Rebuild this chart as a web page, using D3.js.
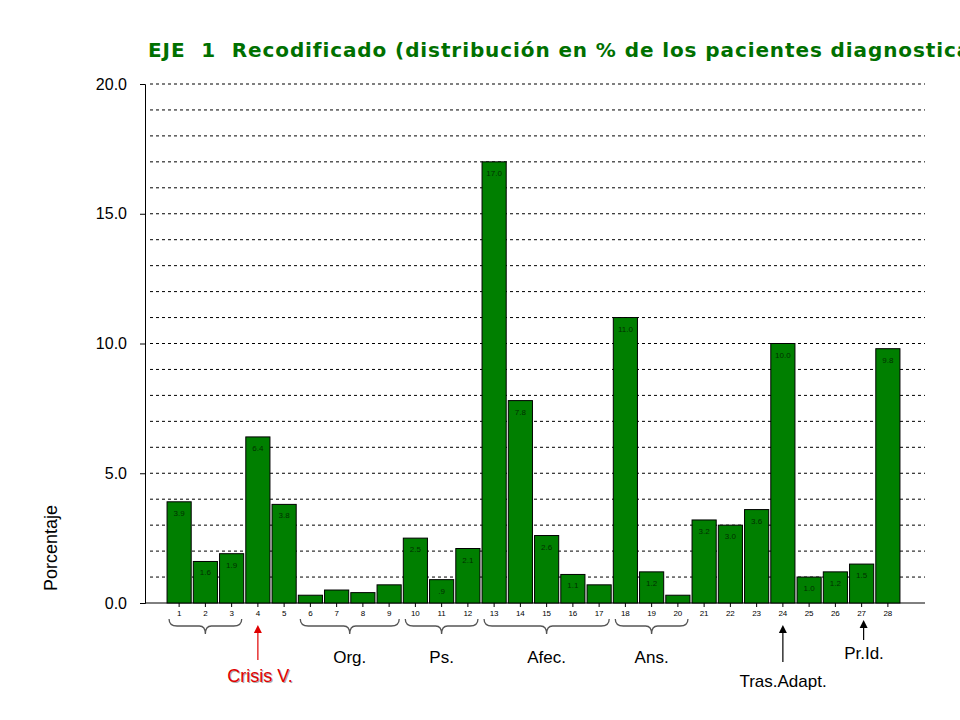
<!DOCTYPE html><html><head><meta charset="utf-8"><script src="https://cdn.jsdelivr.net/npm/d3@7"></script>
<style>body{margin:0;background:#fff}svg{font-family:"Liberation Sans",Arial,sans-serif}</style></head><body><svg id="c" width="960" height="720"></svg><script>
const categories=d3.range(1,29).map(String);
const values=[3.9,1.6,1.9,6.4,3.8,0.3,0.5,0.4,0.7,2.5,0.9,2.1,17.0,7.8,2.6,1.1,0.7,11.0,1.2,0.3,3.2,3.0,3.6,10.0,1.0,1.2,1.5,9.8];
const valueLabels=["3.9","1.6","1.9","6.4","3.8","","","","","2.5",".9","2.1","17.0","7.8","2.6","1.1","","11.0","1.2","","3.2","3.0","3.6","10.0","1.0","1.2","1.5","9.8"];
const yTicks=[0,5,10,15,20];
const groups=[{from:1,to:3,label:""},{from:6,to:9,label:"Org."},{from:10,to:12,label:"Ps."},{from:13,to:17,label:"Afec."},{from:18,to:20,label:"Ans."}];
const svg=d3.select("#c");
const x=d3.scaleBand().domain(categories).range([166,901]).paddingInner(0.08).paddingOuter(0.04);
const y=d3.scaleLinear().domain([0,20]).range([603,84]);
svg.append("text").attr("x",148).attr("y",57).attr("fill","#007000").attr("font-family","DejaVu Sans").attr("font-weight","bold").attr("font-size",20).attr("letter-spacing",0.9).attr("xml:space","preserve")
 .text("EJE  1  Recodificado (distribución en % de los pacientes diagnosticados)");
svg.append("g").selectAll("line").data(d3.range(1,21)).join("line").attr("x1",150).attr("x2",925)
 .attr("y1",d=>y(d)).attr("y2",d=>y(d)).attr("stroke","#000").attr("stroke-dasharray","3,3");
svg.append("line").attr("x1",145).attr("x2",925).attr("y1",y(0)).attr("y2",y(0)).attr("stroke","#000");
const ya=svg.append("g").attr("transform","translate(145,0)").call(d3.axisLeft(y).tickValues(yTicks).tickFormat(d3.format(".1f")).tickSize(5));
ya.select(".domain").attr("stroke","#000");ya.selectAll("text").attr("font-size",16).attr("x",-18).attr("fill","#000");
svg.append("text").attr("transform","translate(57,548) rotate(-90)").attr("text-anchor","middle").attr("font-size",18).text("Porcentaje");
svg.append("g").selectAll("rect").data(values).join("rect").attr("x",(d,i)=>x(categories[i])).attr("width",x.bandwidth())
 .attr("y",d=>y(d)).attr("height",d=>y(0)-y(d)).attr("fill","#007f00").attr("stroke","#000").attr("stroke-width",1);
svg.append("g").selectAll("text").data(values).join("text").attr("x",(d,i)=>x(categories[i])+x.bandwidth()/2).attr("y",d=>y(d)+14)
 .attr("text-anchor","middle").attr("font-size",8).attr("fill","#003000").text((d,i)=>valueLabels[i]);
const xa=svg.append("g").attr("transform","translate(0,603)").call(d3.axisBottom(x).tickSize(4));
xa.select(".domain").remove();xa.selectAll("text").attr("font-size",8).attr("fill","#000");
const bg=svg.append("g").attr("fill","none").attr("stroke","#555").attr("stroke-width",1.3);
groups.forEach(g=>{const a=x(String(g.from))+2,b=x(String(g.to))+x.bandwidth()-2,m=(a+b)/2,t=619,bt=631;
 bg.append("path").attr("d",`M${a},${t} Q${a},${bt-5} ${a+8},${bt-5} L${m-6},${bt-5} Q${m},${bt-5} ${m},${bt+3} Q${m},${bt-5} ${m+6},${bt-5} L${b-8},${bt-5} Q${b},${bt-5} ${b},${t}`);
 if(g.label) svg.append("text").attr("x",m).attr("y",663).attr("text-anchor","middle").attr("font-size",17).text(g.label);});
function arrow(cx,y1,y2,col){svg.append("line").attr("x1",cx).attr("x2",cx).attr("y1",y1).attr("y2",y2+6).attr("stroke",col).attr("stroke-width",1.2);
 svg.append("path").attr("d",`M${cx-4},${y2+8} L${cx},${y2} L${cx+4},${y2+8}Z`).attr("fill",col);}
const cx=c=>x(c)+x.bandwidth()/2;
arrow(cx("4"),660,625,"#e00000");
svg.append("text").attr("x",260).attr("y",682).attr("text-anchor","middle").attr("font-size",18).attr("fill","#e00000")
 .style("text-shadow","1px 1px 0 #aaa").text("Crisis V.");
arrow(cx("24"),662,625,"#000");
svg.append("text").attr("x",783).attr("y",687).attr("text-anchor","middle").attr("font-size",17).text("Tras.Adapt.");
arrow(cx("27")+2,640,620,"#000");
svg.append("text").attr("x",864).attr("y",659).attr("text-anchor","middle").attr("font-size",17).text("Pr.Id.");
</script></body></html>
